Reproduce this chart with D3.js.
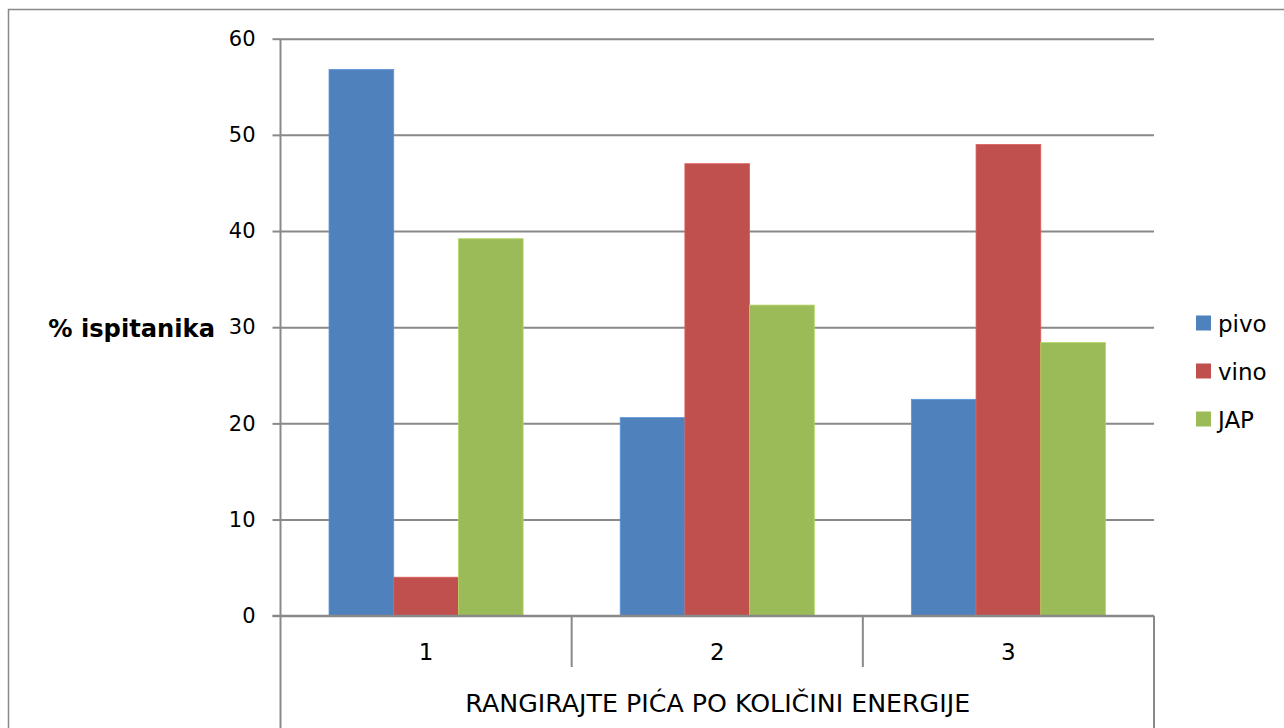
<!DOCTYPE html>
<html>
<head>
<meta charset="utf-8">
<script src="https://cdn.jsdelivr.net/npm/d3@7"></script>
<style>
  html, body { margin: 0; padding: 0; background: #fff; }
  svg { display: block; font-family: "DejaVu Sans", Verdana, sans-serif; }
</style>
</head>
<body>
<svg id="chart" width="1284" height="728"></svg>
<script>
const categories = ["1", "2", "3"];
const seriesNames = ["pivo", "vino", "JAP"];
const pivo = [56.8, 20.6, 22.5];
const vino = [4.0, 47.0, 49.0];
const jap = [39.2, 32.3, 28.4];
const seriesValues = [pivo, vino, jap];
const seriesColors = ["#4F81BD", "#C0504D", "#9BBB59"];
const yTicks = [0, 10, 20, 30, 40, 50, 60];
const yTitle = "% ispitanika";
const xTitle = "RANGIRAJTE PIĆA PO KOLIČINI ENERGIJE";

(function () {
const svg = d3.select("#chart");
const W = 1284, H = 728;
const pLeft = 280.5, pRight = 1154, pTop = 38.7, pBottom = 615.7;
const lineColor = "#898989";

// outer frame
svg.append("rect")
  .attr("x", 8.5).attr("y", 9.5)
  .attr("width", W + 20).attr("height", H + 20)
  .attr("fill", "none").attr("stroke", lineColor).attr("stroke-width", 1.5);

const y = d3.scaleLinear().domain([0, 60]).range([pBottom, pTop]);
const x0 = d3.scaleBand().domain(categories).range([pLeft, pRight]).padding(0);
const x1 = d3.scaleBand().domain(seriesNames).range([0, x0.bandwidth()])
  .paddingInner(0).paddingOuter(0.75);

// gridlines
const grid = svg.append("g").attr("transform", `translate(${pLeft},0)`)
  .call(d3.axisLeft(y).tickValues(yTicks).tickSize(-(pRight - pLeft)).tickFormat(""));
grid.select(".domain").remove();
grid.selectAll(".tick line").attr("stroke", lineColor).attr("stroke-width", 2);

// bars
const rows = categories.map((c, i) => ({
  cat: c,
  vals: seriesNames.map((s, j) => ({ s, v: seriesValues[j][i], color: seriesColors[j] }))
}));
const groups = svg.append("g").selectAll("g").data(rows).join("g")
  .attr("transform", d => `translate(${x0(d.cat)},0)`);
groups.selectAll("rect").data(d => d.vals).join("rect")
  .attr("x", d => x1(d.s))
  .attr("width", x1.bandwidth())
  .attr("y", d => y(d.v))
  .attr("height", d => y(0) - y(d.v))
  .attr("fill", d => d.color)
  .attr("stroke", d => d3.color(d.color).brighter(0.4))
  .attr("stroke-width", 0.8);

// y axis
const yAxis = svg.append("g").attr("transform", `translate(${pLeft},0)`)
  .call(d3.axisLeft(y).tickValues(yTicks).tickSize(8).tickPadding(17));
yAxis.select(".domain").remove();
yAxis.selectAll(".tick line").attr("stroke", lineColor).attr("stroke-width", 2);
yAxis.selectAll(".tick text")
  .attr("font-size", 21).attr("fill", "#000")
  .attr("font-family", "DejaVu Sans, Verdana, sans-serif");

// vertical axis line extended to bottom
svg.append("line")
  .attr("x1", pLeft).attr("x2", pLeft).attr("y1", pTop).attr("y2", H)
  .attr("stroke", lineColor).attr("stroke-width", 2);
// baseline
svg.append("line")
  .attr("x1", pLeft - 8).attr("x2", pRight).attr("y1", pBottom).attr("y2", pBottom)
  .attr("stroke", lineColor).attr("stroke-width", 2);

// category separators (multi-level axis)
const seps = categories.slice(1).map(c => x0(c));
svg.append("g").selectAll("line").data(seps).join("line")
  .attr("x1", d => d).attr("x2", d => d)
  .attr("y1", pBottom).attr("y2", 667)
  .attr("stroke", lineColor).attr("stroke-width", 2);
svg.append("line")
  .attr("x1", pRight).attr("x2", pRight).attr("y1", pBottom).attr("y2", H)
  .attr("stroke", lineColor).attr("stroke-width", 2);

// category labels
svg.append("g").selectAll("text").data(categories).join("text")
  .attr("x", d => x0(d) + x0.bandwidth() / 2)
  .attr("y", 652)
  .attr("text-anchor", "middle")
  .attr("dominant-baseline", "central")
  .attr("font-size", 23)
  .attr("fill", "#000")
  .text(d => d);

// x title
svg.append("text")
  .attr("x", (pLeft + pRight) / 2 + 0.5)
  .attr("y", 703)
  .attr("text-anchor", "middle")
  .attr("dominant-baseline", "central")
  .attr("font-size", 25.3)
  .attr("fill", "#000")
  .text(xTitle);

// y title
svg.append("text")
  .attr("x", 215)
  .attr("y", 329)
  .attr("text-anchor", "end")
  .attr("dominant-baseline", "central")
  .attr("font-size", 24.2)
  .attr("font-weight", "bold")
  .attr("fill", "#000")
  .text(yTitle);

// legend
const legendY = [323, 371, 419];
const legend = svg.append("g").selectAll("g").data(seriesNames).join("g")
  .attr("transform", (d, i) => `translate(1196,${legendY[i]})`);
legend.append("rect")
  .attr("x", 0).attr("y", -7.5).attr("width", 15).attr("height", 15)
  .attr("fill", (d, i) => seriesColors[i]);
legend.append("text")
  .attr("x", 22).attr("y", 1)
  .attr("dominant-baseline", "central")
  .attr("font-size", 23)
  .attr("fill", "#000")
  .text(d => d);
})();
</script>
</body>
</html>
